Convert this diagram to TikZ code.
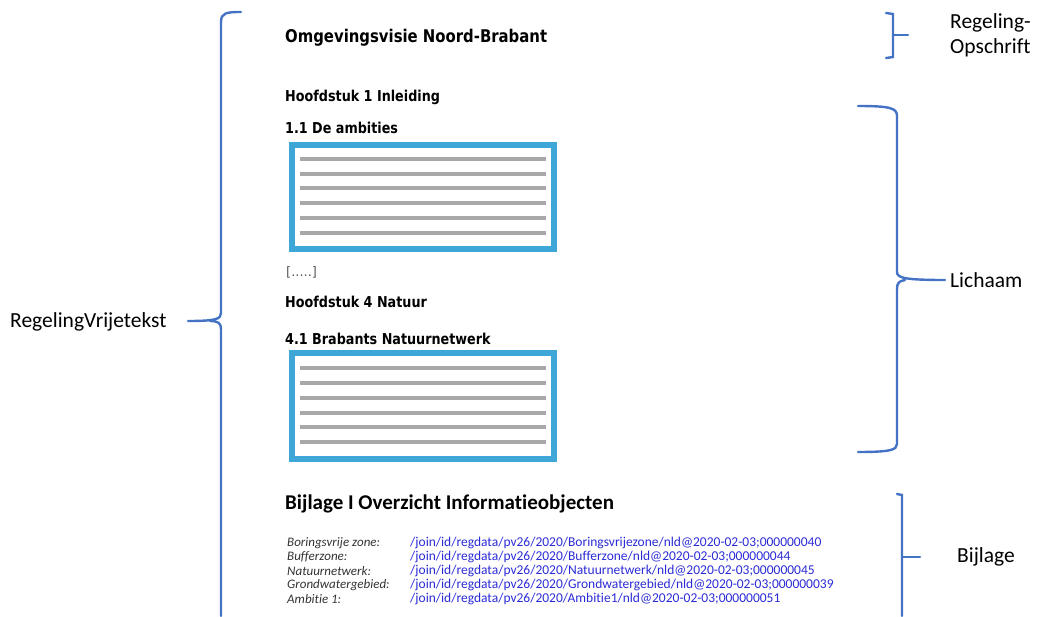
\documentclass[tikz,border=0pt]{standalone}
\usepackage{fontspec}
\setmainfont{Carlito}[Ligatures=NoCommon]
\newfontfamily\verdana{DejaVu Sans}
\newfontfamily\tahoma[FakeStretch=0.85]{DejaVu Sans}

\definecolor{bracecol}{HTML}{4472C4}
\definecolor{boxcol}{HTML}{3FA6D8}
\definecolor{linecol}{HTML}{A8A8A8}
\definecolor{urlcol}{HTML}{2B2BD6}
\definecolor{labelcol}{HTML}{333333}

\tikzset{
  brace/.style={draw=bracecol, line width=2.4pt, line cap=round},
  docbox/.style={draw=boxcol, line width=6pt},
  textline/.style={draw=linecol, line width=4.5pt},
  title/.style={anchor=west, inner sep=0pt, font=\tahoma\bfseries\fontsize{17.5}{20}\selectfont},
  heading/.style={anchor=west, inner sep=0pt, font=\tahoma\bfseries\fontsize{15}{17}\selectfont},
  sidelabel/.style={anchor=west, inner sep=0pt, align=left, font=\fontsize{21.5}{25}\selectfont},
  itemlabel/.style={anchor=west, inner sep=0pt, text=labelcol, font=\itshape\fontsize{13}{15}\selectfont},
  itemurl/.style={anchor=west, inner sep=0pt, text=urlcol, font=\fontsize{13.5}{15}\selectfont}
}

\begin{document}
\begin{tikzpicture}[x=1pt, y=-1pt]
  \useasboundingbox (0, 0) rectangle (1047, 616);

  % document text
  \node[title] (visie) at (285, 38) {Omgevingsvisie Noord-Brabant};
  \node[heading] (hfd1) at (285, 97) {Hoofdstuk 1 Inleiding};
  \node[heading] (par11) at (285, 128) {1.1 De ambities};
  \node[anchor=west, inner sep=0pt, text=black!65, font=\verdana\fontsize{13}{15}\selectfont] (dots) at (286, 272) {[.....]};
  \node[heading] (hfd4) at (285, 302) {Hoofdstuk 4 Natuur};
  \node[heading] (par41) at (285, 339) {4.1 Brabants Natuurnetwerk};

  % text blocks
  \draw[docbox] (292, 145) rectangle (554, 249);
  \foreach \y in {159, 174, 188, 203, 218, 233}
    \draw[textline] (300, \y) -- (546, \y);
  \draw[docbox] (292, 353) rectangle (554, 459);
  \foreach \y in {368, 383, 398, 413, 427, 442}
    \draw[textline] (300, \y) -- (546, \y);

  % bijlage
  \node[anchor=west, inner sep=0pt, font=\bfseries\fontsize{21}{24}\selectfont] (bijlagekop) at (285, 504) {Bijlage I Overzicht Informatieobjecten};
  \node[itemlabel] (io1) at (287, 543) {Boringsvrije zone:};
  \node[itemlabel] (io2) at (287, 557) {Bufferzone:};
  \node[itemlabel] (io3) at (287, 571) {Natuurnetwerk:};
  \node[itemlabel] (io4) at (287, 585) {Grondwatergebied:};
  \node[itemlabel] (io5) at (287, 599) {Ambitie 1:};
  \node[itemurl] (url1) at (410, 543) {/join/id/regdata/pv26/2020/Boringsvrijezone/nld@2020-02-03;000000040};
  \node[itemurl] (url2) at (410, 557) {/join/id/regdata/pv26/2020/Bufferzone/nld@2020-02-03;000000044};
  \node[itemurl] (url3) at (410, 571) {/join/id/regdata/pv26/2020/Natuurnetwerk/nld@2020-02-03;000000045};
  \node[itemurl] (url4) at (410, 585) {/join/id/regdata/pv26/2020/Grondwatergebied/nld@2020-02-03;000000039};
  \node[itemurl] (url5) at (410, 599) {/join/id/regdata/pv26/2020/Ambitie1/nld@2020-02-03;000000051};

  % braces
  \draw[brace] (241, 12) .. controls (226, 12) and (221, 13) .. (221, 22) -- (221, 313)
    .. controls (221, 319) and (216, 321) .. (188, 321);
  \draw[brace] (210, 321) .. controls (218, 321) and (221, 323) .. (221, 329) -- (221, 616);

  \draw[brace] (886, 13) -- (893, 14) -- (893, 57) -- (886, 58);
  \draw[brace] (893, 35) -- (908, 35);

  \draw[brace] (858, 106) .. controls (890, 106) and (897, 108) .. (897, 116) -- (897, 272)
    .. controls (897, 278) and (905, 280) .. (945, 280);
  \draw[brace] (905, 280) .. controls (899, 281) and (897, 283) .. (897, 289) -- (897, 444)
    .. controls (897, 450) and (890, 452) .. (858, 452);

  \draw[brace] (897, 494) -- (902, 495) -- (902, 616);
  \draw[brace] (902, 557) -- (920, 557);

  % labels
  \node[sidelabel] (vrijetekst) at (10, 322) {RegelingVrijetekst};
  \node[sidelabel] (opschrift) at (950, 35) {Regeling-\\Opschrift};
  \node[sidelabel] (lichaam) at (950, 280) {Lichaam};
  \node[sidelabel] (bijlage) at (957, 557) {Bijlage};
\end{tikzpicture}
\end{document}
